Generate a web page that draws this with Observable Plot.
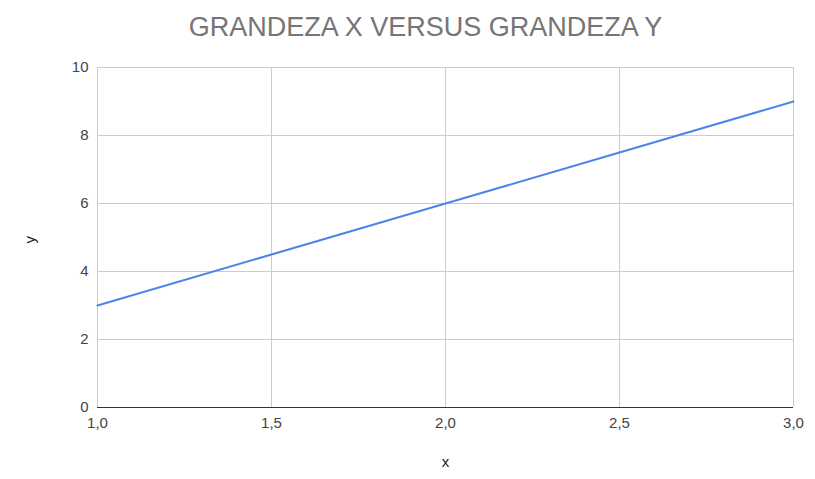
<!DOCTYPE html>
<html>
<head>
<meta charset="utf-8">
<script src="https://cdn.jsdelivr.net/npm/d3@7"></script>
<script src="https://cdn.jsdelivr.net/npm/@observablehq/plot@0.6"></script>
<style>
  html, body { margin: 0; padding: 0; background: #fff; }
  #title { height: 50px; width: 815px; font-family: "Liberation Sans", Arial, sans-serif; font-size: 27px; color: #757575; line-height: 54px; text-align: center; box-sizing: border-box; padding-left: 36px; white-space: nowrap; }
  svg { display: block; }
</style>
</head>
<body>
<div id="title">GRANDEZA X VERSUS GRANDEZA Y</div>
<div id="chart"></div>
<script>
const xValues = [1, 1.5, 2, 2.5, 3];
const yValues = [3, 4.5, 6, 7.5, 9];
const xTicks = [1, 1.5, 2, 2.5, 3];
const yTicks = [0, 2, 4, 6, 8, 10];
const xLabel = "x";
const yLabel = "y";

const data = xValues.map((x, i) => ({x, y: yValues[i]}));
const fmt = d => d.toFixed(1).replace(".", ",");

const chart = Plot.plot({
  width: 815,
  height: 429,
  marginLeft: 97,
  marginRight: 22,
  marginTop: 17,
  marginBottom: 72,
  style: {fontFamily: "'Liberation Sans', Arial, sans-serif", fontSize: "15px", color: "#444", background: "#fff"},
  x: {domain: [1, 3], label: null},
  y: {domain: [0, 10], label: null},
  marks: [
    Plot.gridX(xTicks, {stroke: "#cccccc", strokeOpacity: 1}),
    Plot.gridY(yTicks, {stroke: "#cccccc", strokeOpacity: 1}),
    Plot.axisX(xTicks, {tickSize: 0, tickPadding: 10, tickFormat: fmt, label: null, fill: "#444", fontSize: 15}),
    Plot.axisY(yTicks, {tickSize: 0, tickPadding: 9, label: null, fill: "#444", fontSize: 15}),
    Plot.ruleY([0], {stroke: "#333333", strokeWidth: 1}),
    Plot.line(data, {x: "x", y: "y", stroke: "#4a86e8", strokeWidth: 2}),
    Plot.text([xLabel], {frameAnchor: "bottom", dy: 59, text: d => d, fill: "#222", fontSize: 15}),
    Plot.text([yLabel], {frameAnchor: "left", dx: -67, dy: 6, rotate: -90, text: d => d, fill: "#222", fontSize: 15})
  ]
});
document.getElementById("chart").appendChild(chart);
</script>
</body>
</html>
